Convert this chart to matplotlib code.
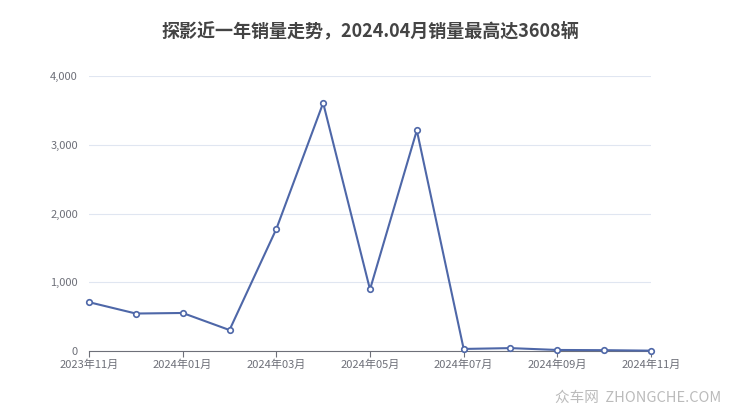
import matplotlib.pyplot as plt
from matplotlib.ticker import FuncFormatter

plt.rcParams['font.family'] = ['Noto Sans CJK SC', 'DejaVu Sans']

months = ['2023年11月', '2023年12月', '2024年01月', '2024年02月', '2024年03月',
          '2024年04月', '2024年05月', '2024年06月', '2024年07月', '2024年08月',
          '2024年09月', '2024年10月', '2024年11月']
sales = [710, 545, 553, 305, 1775, 3608, 895, 3210, 30, 42, 15, 12, 5]
yticks = [0, 1000, 2000, 3000, 4000]

fig = plt.figure(figsize=(7.4, 4.17), dpi=100)
ax = fig.add_axes([89 / 740, 1 - 351 / 417, (651 - 89) / 740, (351 - 76) / 417])

x = list(range(len(months)))
ax.plot(x, sales, color='#4e67a8', lw=1.5, marker='o', markersize=4,
        markerfacecolor='white', markeredgecolor='#4e67a8', markeredgewidth=1.2,
        clip_on=False, zorder=3)

ax.set_xlim(0, len(months) - 1)
ax.set_ylim(0, 4000)
ax.set_yticks(yticks)
ax.yaxis.set_major_formatter(FuncFormatter(lambda v, p: f'{int(v):,}'))
ax.set_xticks(x[::2])
ax.set_xticklabels(months[::2])

ax.grid(axis='y', color='#e0e6f1', lw=0.8)
ax.set_axisbelow(True)
for s in ['top', 'right', 'left']:
    ax.spines[s].set_visible(False)
ax.spines['bottom'].set_color('#6e7079')
ax.tick_params(axis='y', length=0, labelsize=8, labelcolor='#6e7079', pad=8)
ax.tick_params(axis='x', length=4, color='#6e7079', labelsize=8, labelcolor='#6e7079', pad=2)

fig.text(0.5, 1 - 31 / 417, '探影近一年销量走势，2024.04月销量最高达3608辆',
         ha='center', va='center', fontsize=13, fontweight='bold', color='#444444')
fig.text(721 / 740, 1 - 398 / 417, '众车网  ZHONGCHE.COM', ha='right', va='center',
         fontsize=10.5, color='#bbbbbb')

fig.savefig('out.png', dpi=100)
